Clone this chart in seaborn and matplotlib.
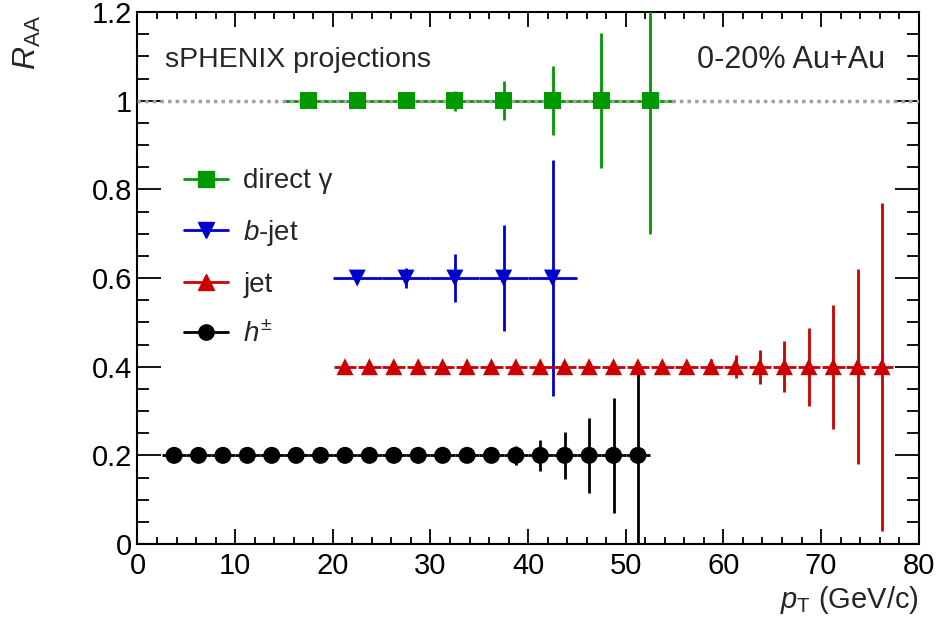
import numpy as np
import pandas as pd
import matplotlib
matplotlib.use('Agg')
import matplotlib.pyplot as plt
from matplotlib.lines import Line2D
from matplotlib.ticker import MultipleLocator, FormatStrFormatter
import seaborn as sns

# direct photon
gamma_pt = [17.5, 22.5, 27.5, 32.5, 37.5, 42.5, 47.5, 52.5]
gamma_raa = [1.0, 1.0, 1.0, 1.0, 1.0, 1.0, 1.0, 1.0]
gamma_err = [0.004, 0.006, 0.009, 0.022, 0.044, 0.078, 0.152, 0.30]
gamma_xerr = 2.5

# b-jet
bjet_pt = [22.5, 27.5, 32.5, 37.5, 42.5]
bjet_raa = [0.6, 0.6, 0.6, 0.6, 0.6]
bjet_err = [0.006, 0.023, 0.054, 0.12, 0.266]
bjet_xerr = 2.5

# inclusive jet
jet_pt = [21.25, 23.75, 26.25, 28.75, 31.25, 33.75, 36.25, 38.75, 41.25, 43.75,
          46.25, 48.75, 51.25, 53.75, 56.25, 58.75, 61.25, 63.75, 66.25, 68.75,
          71.25, 73.75, 76.25]
jet_raa = [0.4] * 23
jet_err = [0.002, 0.002, 0.002, 0.002, 0.002, 0.002, 0.002, 0.003, 0.003, 0.003,
           0.004, 0.004, 0.005, 0.006, 0.008, 0.017, 0.026, 0.038, 0.057, 0.088,
           0.14, 0.22, 0.37]
jet_xerr = 1.25

# charged hadrons
h_pt = [3.75, 6.25, 8.75, 11.25, 13.75, 16.25, 18.75, 21.25, 23.75, 26.25,
        28.75, 31.25, 33.75, 36.25, 38.75, 41.25, 43.75, 46.25, 48.75, 51.25]
h_raa = [0.2] * 20
h_err = [0.001, 0.001, 0.001, 0.001, 0.001, 0.001, 0.001, 0.001, 0.002, 0.002,
         0.002, 0.003, 0.004, 0.007, 0.021, 0.035, 0.053, 0.084, 0.13, 0.20]
h_xerr = 1.25

series_names = ['direct γ', 'b-jet', 'jet', 'h±']
legend_labels = ['direct γ', r'$b$-jet', 'jet', r'$h^{\pm}$']
colors = {'direct γ': '#009900', 'b-jet': '#0000cc', 'jet': '#cc0000', 'h±': '#000000'}
markers = {'direct γ': 's', 'b-jet': 'v', 'jet': '^', 'h±': 'o'}

df = pd.concat([
    pd.DataFrame({'pt': gamma_pt, 'raa': gamma_raa, 'err': gamma_err, 'xerr': gamma_xerr, 'series': 'direct γ'}),
    pd.DataFrame({'pt': bjet_pt, 'raa': bjet_raa, 'err': bjet_err, 'xerr': bjet_xerr, 'series': 'b-jet'}),
    pd.DataFrame({'pt': jet_pt, 'raa': jet_raa, 'err': jet_err, 'xerr': jet_xerr, 'series': 'jet'}),
    pd.DataFrame({'pt': h_pt, 'raa': h_raa, 'err': h_err, 'xerr': h_xerr, 'series': 'h±'}),
], ignore_index=True)

sns.set_style('ticks')
plt.rcParams['font.family'] = ['Liberation Sans', 'DejaVu Sans']
plt.rcParams['mathtext.fontset'] = 'custom'
plt.rcParams['mathtext.rm'] = 'Liberation Sans'
plt.rcParams['mathtext.it'] = 'Liberation Sans:italic'

fig = plt.figure(figsize=(9.39, 6.4), dpi=100)
ax = fig.add_axes([0.1464, 0.15, 0.832, 0.831])

ax.axhline(1.0, color='#a0a0a0', ls=(0, (1, 1.2)), lw=2.5, zorder=4)
ax.axhline(0.0, color='#006600', lw=1.5, zorder=1)

for name in series_names:
    d = df[df['series'] == name]
    gap = 0.93 if name == 'jet' else 1.0
    ax.errorbar(d['pt'], d['raa'], xerr=d['xerr'] * gap, yerr=d['err'], fmt='none',
                ecolor=colors[name], elinewidth=2, capsize=0, zorder=3)

sns.scatterplot(data=df, x='pt', y='raa', hue='series', style='series',
                palette=colors, markers=markers, s=150, edgecolor='none',
                legend=False, ax=ax, zorder=5)

ax.set_xlim(0, 80)
ax.set_ylim(0, 1.2)
ax.xaxis.set_major_locator(MultipleLocator(10))
ax.xaxis.set_minor_locator(MultipleLocator(2))
ax.yaxis.set_major_locator(MultipleLocator(0.2))
ax.yaxis.set_minor_locator(MultipleLocator(0.05))
ax.yaxis.set_major_formatter(FormatStrFormatter('%g'))
ax.tick_params(axis='both', which='both', direction='in', top=True, right=True,
               labelsize=21, width=1.3, colors='black')
ax.tick_params(axis='x', which='major', length=11, pad=6)
ax.tick_params(axis='x', which='minor', length=5)
ax.tick_params(axis='y', which='major', length=17, pad=4)
ax.tick_params(axis='y', which='minor', length=8.5)
for sp in ax.spines.values():
    sp.set_linewidth(1.5)
    sp.set_color('black')

ax.set_xlabel(r'$p_{\mathrm{T}}$ (GeV/c)', fontsize=21, loc='right', labelpad=3)
ax.set_ylabel(r'$R_{\mathrm{AA}}$', fontsize=23)
ax.yaxis.label.set_ha('center')
ax.yaxis.label.set_va('center')
ax.yaxis.set_label_coords(-0.141, 0.942)

ax.text(0.035, 0.91, 'sPHENIX projections', transform=ax.transAxes,
        fontsize=20.5, ha='left', va='center')
ax.text(0.957, 0.91, '0-20% Au+Au', transform=ax.transAxes,
        fontsize=22, ha='right', va='center')

handles = [Line2D([], [], color=colors[n], marker=markers[n], markersize=11, lw=2)
           for n in series_names]
ax.legend(handles, legend_labels, loc='upper left', bbox_to_anchor=(0.045, 0.727),
          frameon=False, fontsize=20, handlelength=1.6, handletextpad=0.55,
          labelspacing=0.85, borderaxespad=0)

fig.savefig('out.png', dpi=100)
